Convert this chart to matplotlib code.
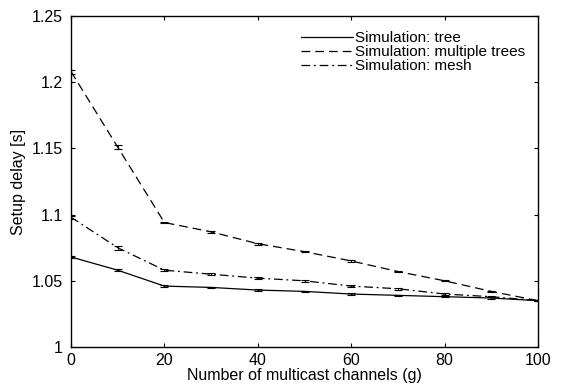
import numpy as np
import matplotlib.pyplot as plt

plt.rcParams['font.family'] = ['Liberation Sans', 'DejaVu Sans']

# Number of multicast channels
channels = [0, 10, 20, 30, 40, 50, 60, 70, 80, 90, 100]

# Mean setup delay [s] per topology
delay_tree = [1.068, 1.058, 1.046, 1.045, 1.043, 1.042, 1.040, 1.039, 1.038, 1.037, 1.035]
delay_multi = [1.208, 1.151, 1.094, 1.087, 1.078, 1.072, 1.065, 1.057, 1.050, 1.042, 1.035]
delay_mesh = [1.098, 1.075, 1.058, 1.055, 1.052, 1.050, 1.046, 1.044, 1.040, 1.038, 1.035]

# Confidence interval half-widths
err_tree = [0.0008, 0.0006, 0.0005, 0.0005, 0.0005, 0.0005, 0.0005, 0.0005, 0.0005, 0.0005, 0.0004]
err_multi = [0.0015, 0.0012, 0.0007, 0.0006, 0.0006, 0.0006, 0.0005, 0.0006, 0.0005, 0.0005, 0.0004]
err_mesh = [0.0012, 0.0015, 0.0007, 0.0008, 0.0006, 0.0007, 0.0005, 0.0006, 0.0005, 0.0005, 0.0004]

fig = plt.figure(figsize=(5.62, 3.87), dpi=100)
ax = fig.add_axes([71 / 562, 40 / 387, 467 / 562, 331 / 387])

series = [
    (delay_tree, err_tree, '-', 'Simulation: tree'),
    (delay_multi, err_multi, (0, (7, 4)), 'Simulation: multiple trees'),
    (delay_mesh, err_mesh, (0, (7, 3, 1.5, 3)), 'Simulation: mesh'),
]
handles = []
for vals, errs, ls, label in series:
    line, = ax.plot(channels, vals, color='black', linestyle=ls, linewidth=0.9, label=label)
    ax.errorbar(channels, vals, yerr=errs, fmt='none', ecolor='black',
                elinewidth=0.8, capsize=3, capthick=0.8)
    handles.append(line)

ax.set_xlim(0, 100)
ax.set_ylim(1, 1.25)
ax.set_xticks(np.arange(0, 101, 20))
ax.set_yticks([1, 1.05, 1.1, 1.15, 1.2, 1.25])
ax.set_yticklabels(['1', '1.05', '1.1', '1.15', '1.2', '1.25'])
ax.tick_params(direction='in', top=True, right=True, labelsize=11.5, length=3, width=0.8)
ax.tick_params(axis='y', pad=6)
ax.tick_params(axis='x', pad=4)
for sp in ax.spines.values():
    sp.set_linewidth(1.0)

ax.set_xlabel('Number of multicast channels (g)', fontsize=11.5, labelpad=0)
ax.set_ylabel('Setup delay [s]', fontsize=11.5, labelpad=4)

ax.legend(handles=handles, loc='upper right', frameon=False, fontsize=11,
          handlelength=3.4, handletextpad=0.15, labelspacing=0.0,
          borderpad=0, borderaxespad=0, bbox_to_anchor=(0.972, 0.955))

fig.savefig('out.png', dpi=100)
